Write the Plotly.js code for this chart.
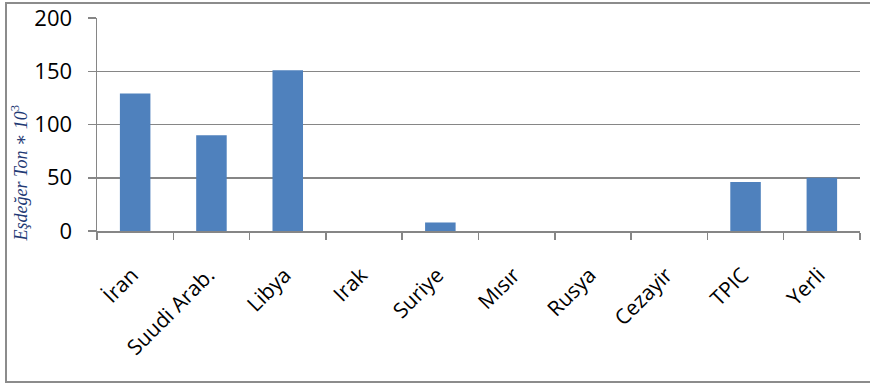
<!DOCTYPE html>
<html>
<head>
<meta charset="utf-8">
<script src="https://cdn.plot.ly/plotly-3.0.1.min.js"></script>
<style>
html,body{margin:0;padding:0;background:#fff;overflow:hidden;}
#wrap{position:relative;width:870px;height:385px;overflow:hidden;}
#chart{width:870px;height:385px;}
#frame{position:absolute;left:5px;top:2px;width:880px;height:381px;border:2px solid #8c8c8c;pointer-events:none;box-sizing:border-box;}
</style>
</head>
<body>
<div id="wrap"><div id="chart"></div><div id="frame"></div></div>
<script>
const categories = ["İran", "Suudi Arab.", "Libya", "Irak", "Suriye", "Mısır", "Rusya", "Cezayir", "TPIC", "Yerli"];
const values = [129, 90, 151, 0, 8, 0, 0, 0, 46, 50];
const yTicks = [0, 50, 100, 150, 200];
const yTitle = "<i>Eşdeğer Ton ∗ 10</i><sup>3</sup>";

const trace = {
  type: "bar",
  x: categories,
  y: values,
  marker: {color: "#4f81bd", line: {color: "#4f81bd", width: 0}},
  hoverinfo: "x+y"
};

const layout = {
  width: 870,
  height: 385,
  margin: {l: 97, r: 10, t: 18, b: 154},
  paper_bgcolor: "#ffffff",
  plot_bgcolor: "#ffffff",
  showlegend: false,
  bargap: 0.6,
  font: {family: "Open Sans, Noto Sans, sans-serif", color: "#000"},
  xaxis: {
    type: "category",
    tickangle: -45,
    tickfont: {size: 21, family: "Open Sans, sans-serif", color: "#000"},
    ticks: "outside",
    tickson: "boundaries",
    ticklen: 7,
    tickcolor: "#868686",
    tickwidth: 1.5,
    ticklabelstandoff: 22,
    ticklabelshift: -3,
    showline: true,
    linecolor: "#868686",
    linewidth: 1.5,
    showgrid: false,
    zeroline: false
  },
  yaxis: {
    range: [0, 200],
    tickvals: yTicks,
    ticktext: yTicks.map(String),
    tickfont: {size: 22, family: "Open Sans, sans-serif", color: "#000"},
    ticks: "outside",
    ticklen: 8,
    tickcolor: "#868686",
    tickwidth: 1.5,
    ticklabelstandoff: 11,
    showline: true,
    linecolor: "#868686",
    linewidth: 1.5,
    showgrid: true,
    gridcolor: "#868686",
    gridwidth: 1.5,
    zeroline: false
  },
  annotations: [{
    text: yTitle,
    xref: "paper", yref: "paper",
    x: -0.101, y: 0.27,
    xanchor: "center", yanchor: "middle",
    textangle: -90,
    showarrow: false,
    font: {family: "Liberation Serif, DejaVu Serif, serif", size: 18, color: "#1f3a75"}
  }]
};

Plotly.newPlot("chart", [trace], layout, {displayModeBar: false, staticPlot: true});
</script>
</body>
</html>
